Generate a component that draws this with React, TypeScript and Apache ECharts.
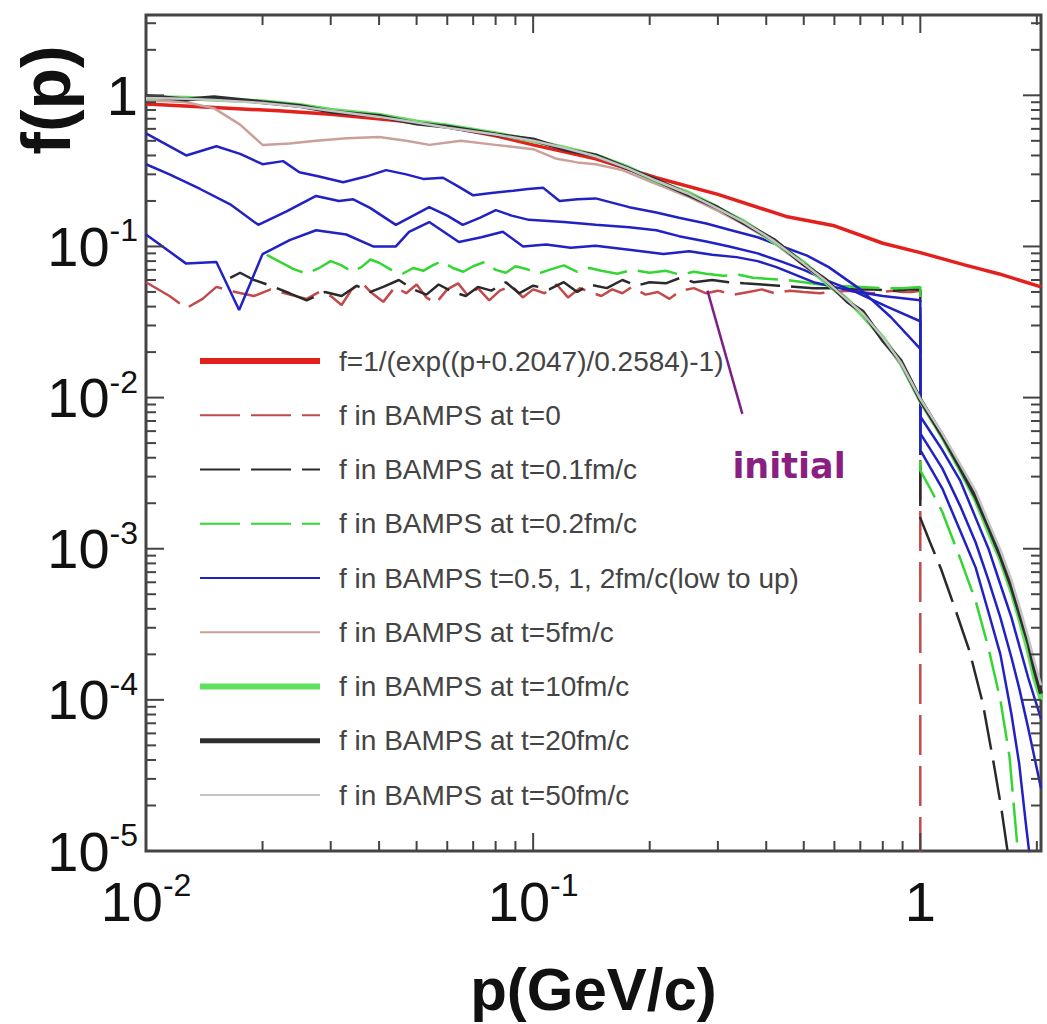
import React, { useEffect, useRef } from 'react';
import * as echarts from 'echarts';

// ---------- names ----------
const FIT_NAME = 'f=1/(exp((p+0.2047)/0.2584)-1)';
const T0_NAME = 'f in BAMPS at t=0';
const T01_NAME = 'f in BAMPS at t=0.1fm/c';
const T02_NAME = 'f in BAMPS at t=0.2fm/c';
const BLUE_NAME = 'f in BAMPS t=0.5, 1, 2fm/c(low to up)';
const T5_NAME = 'f in BAMPS at t=5fm/c';
const T10_NAME = 'f in BAMPS at t=10fm/c';
const T20_NAME = 'f in BAMPS at t=20fm/c';
const T50_NAME = 'f in BAMPS at t=50fm/c';

// ---------- axis ranges ----------
const X_MIN = 0.01;
const X_MAX = 2.05;
const Y_MIN = 1e-5;
const Y_MAX = 3.4;

const X_MAJOR = [0.01, 0.1, 1];
const X_MINOR = [0.02, 0.03, 0.04, 0.05, 0.06, 0.07, 0.08, 0.09, 0.2, 0.3, 0.4, 0.5, 0.6, 0.7, 0.8, 0.9, 2];
const Y_MAJOR = [1e-5, 1e-4, 1e-3, 1e-2, 1e-1, 1];
const Y_MINOR = [
  2e-5, 3e-5, 4e-5, 5e-5, 6e-5, 7e-5, 8e-5, 9e-5,
  2e-4, 3e-4, 4e-4, 5e-4, 6e-4, 7e-4, 8e-4, 9e-4,
  2e-3, 3e-3, 4e-3, 5e-3, 6e-3, 7e-3, 8e-3, 9e-3,
  0.02, 0.03, 0.04, 0.05, 0.06, 0.07, 0.08, 0.09,
  0.2, 0.3, 0.4, 0.5, 0.6, 0.7, 0.8, 0.9, 2, 3,
];

// ---------- fit curve (as drawn) ----------
const P_FIT = [0.01, 0.015, 0.022, 0.03, 0.045, 0.06, 0.08, 0.1, 0.145, 0.208, 0.3, 0.45, 0.6, 0.8, 1.0, 1.3, 1.6, 2.05];
const F_FIT = [0.875, 0.83, 0.79, 0.75, 0.68, 0.62, 0.54, 0.47, 0.38, 0.285, 0.221, 0.158, 0.137, 0.105, 0.091, 0.0755, 0.0658, 0.054];

// ---------- t = 0 ----------
const P_T0 = [0.01, 0.0115, 0.0127, 0.014, 0.0152, 0.017, 0.019, 0.021, 0.0235, 0.026, 0.028, 0.03, 0.032, 0.034, 0.036, 0.038, 0.041, 0.044, 0.047, 0.05, 0.053, 0.056, 0.06, 0.064, 0.068, 0.072, 0.077, 0.082, 0.088, 0.094, 0.1, 0.107, 0.115, 0.123, 0.132, 0.14, 0.15, 0.16, 0.17, 0.18, 0.195, 0.21, 0.225, 0.24, 0.26, 0.28, 0.3, 0.33, 0.36, 0.39, 0.42, 0.46, 0.5, 0.55, 0.6, 0.65, 0.7, 0.75, 0.8, 0.85, 0.9, 0.95, 1.0, 1.0];
const F_T0 = [0.058, 0.047, 0.039, 0.045, 0.054, 0.05, 0.047, 0.052, 0.048, 0.045, 0.05, 0.047, 0.041, 0.052, 0.058, 0.05, 0.043, 0.054, 0.049, 0.056, 0.046, 0.042, 0.052, 0.057, 0.047, 0.053, 0.044, 0.051, 0.055, 0.046, 0.052, 0.049, 0.056, 0.046, 0.053, 0.05, 0.047, 0.052, 0.049, 0.054, 0.048, 0.05, 0.045, 0.051, 0.053, 0.049, 0.051, 0.048, 0.05, 0.052, 0.049, 0.051, 0.05, 0.049, 0.05, 0.051, 0.05, 0.049, 0.05, 0.051, 0.05, 0.05, 0.051, 0.000001];

// ---------- t = 0.1 fm/c ----------
const P_T01 = [0.0165, 0.0175, 0.019, 0.021, 0.0235, 0.026, 0.029, 0.032, 0.035, 0.038, 0.041, 0.045, 0.049, 0.053, 0.057, 0.062, 0.067, 0.072, 0.078, 0.085, 0.092, 0.1, 0.11, 0.12, 0.13, 0.14, 0.155, 0.17, 0.185, 0.2, 0.22, 0.24, 0.26, 0.29, 0.32, 0.35, 0.39, 0.43, 0.48, 0.53, 0.6, 0.68, 0.76, 0.85, 0.93, 1.0, 1.0, 1.06, 1.13, 1.23, 1.34, 1.45, 1.55, 1.62, 1.68, 1.7];
const F_T01 = [0.062, 0.067, 0.06, 0.055, 0.049, 0.044, 0.05, 0.047, 0.055, 0.05, 0.054, 0.06, 0.052, 0.048, 0.056, 0.05, 0.047, 0.054, 0.051, 0.058, 0.049, 0.055, 0.052, 0.058, 0.05, 0.056, 0.053, 0.06, 0.055, 0.058, 0.057, 0.062, 0.058, 0.06, 0.058, 0.057, 0.056, 0.055, 0.054, 0.053, 0.053, 0.052, 0.052, 0.051, 0.052, 0.052, 0.0016, 0.0011, 0.00074, 0.0004, 0.00021, 0.000095, 0.000037, 0.000019, 0.00001, 0.000008];

// ---------- t = 0.2 fm/c ----------
const P_T02 = [0.0205, 0.022, 0.024, 0.026, 0.028, 0.03, 0.032, 0.034, 0.036, 0.038, 0.04, 0.043, 0.046, 0.049, 0.052, 0.055, 0.058, 0.062, 0.066, 0.07, 0.075, 0.08, 0.085, 0.09, 0.096, 0.103, 0.11, 0.12, 0.13, 0.14, 0.15, 0.165, 0.18, 0.2, 0.22, 0.24, 0.26, 0.28, 0.31, 0.34, 0.37, 0.41, 0.45, 0.5, 0.55, 0.6, 0.7, 0.8, 0.9, 1.0, 1.0, 1.07, 1.14, 1.27, 1.39, 1.5, 1.61, 1.7, 1.78, 1.8];
const F_T02 = [0.088, 0.08, 0.071, 0.066, 0.072, 0.08, 0.075, 0.068, 0.073, 0.082, 0.078, 0.07, 0.066, 0.072, 0.069, 0.075, 0.08, 0.072, 0.068, 0.074, 0.079, 0.07, 0.067, 0.074, 0.071, 0.066, 0.07, 0.075, 0.068, 0.072, 0.069, 0.066, 0.07, 0.067, 0.069, 0.065, 0.068, 0.066, 0.064, 0.065, 0.062, 0.061, 0.06, 0.058, 0.056, 0.055, 0.054, 0.053, 0.053, 0.054, 0.0033, 0.0024, 0.00175, 0.00085, 0.00045, 0.00022, 0.0001, 0.000042, 0.000011, 0.000008];

// ---------- t = 0.5 fm/c (lowest blue at small p) ----------
const P_T05 = [0.01, 0.0127, 0.0152, 0.0174, 0.02, 0.0235, 0.0275, 0.0329, 0.0386, 0.0442, 0.0478, 0.0539, 0.0643, 0.0735, 0.0835, 0.0942, 0.108, 0.125, 0.145, 0.177, 0.217, 0.253, 0.29, 0.335, 0.38, 0.425, 0.53, 0.66, 0.8, 1.0, 1.0, 1.14, 1.27, 1.39, 1.5, 1.61, 1.72, 1.8, 1.88, 1.93];
const F_T05 = [0.12, 0.077, 0.079, 0.038, 0.089, 0.11, 0.128, 0.12, 0.1, 0.1, 0.125, 0.145, 0.107, 0.115, 0.125, 0.1, 0.103, 0.098, 0.101, 0.095, 0.089, 0.093, 0.088, 0.085, 0.08, 0.073, 0.058, 0.051, 0.047, 0.044, 0.0045, 0.0025, 0.0013, 0.00075, 0.00038, 0.0002, 0.00008, 0.000038, 0.000014, 0.000008];

// ---------- t = 1 fm/c ----------
const P_T1 = [0.01, 0.0115, 0.0138, 0.0165, 0.0195, 0.023, 0.0275, 0.0315, 0.0343, 0.0379, 0.0442, 0.049, 0.0539, 0.06, 0.0658, 0.073, 0.0801, 0.088, 0.0975, 0.12, 0.145, 0.177, 0.208, 0.238, 0.28, 0.321, 0.38, 0.44, 0.5, 0.58, 0.68, 0.82, 1.0, 1.0, 1.14, 1.27, 1.39, 1.5, 1.61, 1.72, 1.8, 1.9, 1.97, 2.05];
const F_T1 = [0.35, 0.3, 0.24, 0.19, 0.139, 0.17, 0.216, 0.2, 0.205, 0.18, 0.139, 0.16, 0.182, 0.16, 0.139, 0.155, 0.174, 0.16, 0.15, 0.145, 0.139, 0.134, 0.128, 0.117, 0.108, 0.1, 0.09, 0.079, 0.07, 0.059, 0.05, 0.04, 0.032, 0.0058, 0.0034, 0.0019, 0.0011, 0.00062, 0.00035, 0.00019, 0.00012, 0.000065, 0.000042, 0.000026];

// ---------- t = 2 fm/c ----------
const P_T2 = [0.01, 0.0127, 0.0152, 0.0175, 0.02, 0.0226, 0.0249, 0.028, 0.0323, 0.037, 0.0417, 0.047, 0.052, 0.0585, 0.064, 0.07, 0.078, 0.0888, 0.097, 0.106, 0.117, 0.13, 0.145, 0.177, 0.208, 0.238, 0.28, 0.321, 0.38, 0.44, 0.51, 0.58, 0.7, 0.84, 1.0, 1.0, 1.14, 1.27, 1.39, 1.5, 1.61, 1.72, 1.8, 1.9, 2.05];
const F_T2 = [0.56, 0.4, 0.46, 0.41, 0.35, 0.367, 0.31, 0.29, 0.266, 0.29, 0.32, 0.3, 0.28, 0.285, 0.25, 0.218, 0.226, 0.234, 0.24, 0.245, 0.2, 0.205, 0.208, 0.182, 0.168, 0.155, 0.142, 0.129, 0.115, 0.1, 0.087, 0.073, 0.052, 0.034, 0.021, 0.0075, 0.0045, 0.0028, 0.0016, 0.001, 0.00058, 0.00035, 0.00023, 0.00014, 0.000075];

// ---------- t = 5 fm/c ----------
const P_T5 = [0.01, 0.0127, 0.015, 0.0175, 0.02, 0.0235, 0.0275, 0.033, 0.04, 0.047, 0.054, 0.065, 0.08, 0.1, 0.115, 0.13, 0.145, 0.17, 0.2, 0.25, 0.3, 0.35, 0.42, 0.5, 0.57, 0.65, 0.71, 0.8, 0.89, 1.0, 1.14, 1.27, 1.39, 1.5, 1.61, 1.72, 1.8, 1.9, 1.97, 2.05];
const F_T5 = [0.93, 0.9, 0.82, 0.64, 0.47, 0.48, 0.5, 0.52, 0.53, 0.5, 0.47, 0.5, 0.47, 0.44, 0.38, 0.36, 0.35, 0.32, 0.27, 0.215, 0.172, 0.14, 0.105, 0.075, 0.057, 0.043, 0.035, 0.024, 0.0165, 0.0093, 0.0054, 0.0033, 0.0021, 0.0013, 0.00083, 0.00052, 0.00035, 0.00021, 0.00014, 0.0001];

// ---------- thermalised (t = 10, 20, 50 fm/c) ----------
const P_TH = [0.01, 0.0127, 0.015, 0.02, 0.025, 0.03, 0.04, 0.05, 0.06, 0.08, 0.1, 0.12, 0.145, 0.175, 0.208, 0.25, 0.3, 0.35, 0.42, 0.5, 0.57, 0.65, 0.71, 0.8, 0.89, 1.0, 1.14, 1.27, 1.39, 1.5, 1.61, 1.72, 1.8, 1.9, 1.97, 2.05];
const F_T10 = [0.97, 0.96, 0.94, 0.91, 0.86, 0.8, 0.74, 0.67, 0.63, 0.56, 0.5, 0.45, 0.4, 0.335, 0.27, 0.228, 0.18, 0.146, 0.107, 0.078, 0.058, 0.044, 0.035, 0.025, 0.017, 0.0096, 0.0055, 0.0033, 0.0021, 0.0013, 0.00085, 0.00052, 0.00035, 0.00021, 0.00014, 0.0001];
const F_T20 = [0.99, 0.94, 0.97, 0.9, 0.85, 0.78, 0.73, 0.65, 0.62, 0.55, 0.51, 0.44, 0.4, 0.33, 0.275, 0.222, 0.18, 0.143, 0.11, 0.076, 0.06, 0.043, 0.037, 0.024, 0.0175, 0.0097, 0.0056, 0.0034, 0.0022, 0.0014, 0.0009, 0.00056, 0.00038, 0.00024, 0.00016, 0.00011];
const F_T50 = [0.96, 0.95, 0.93, 0.89, 0.84, 0.79, 0.72, 0.66, 0.61, 0.55, 0.5, 0.45, 0.395, 0.33, 0.272, 0.225, 0.178, 0.145, 0.108, 0.077, 0.059, 0.044, 0.036, 0.025, 0.0171, 0.0098, 0.0058, 0.0036, 0.0024, 0.0015, 0.00098, 0.00062, 0.00042, 0.00026, 0.00018, 0.000125];

// ---------- "initial" pointer ----------
const P_ARROW = [0.282, 0.347];
const F_ARROW = [0.051, 0.0078];

const pairs = (p: number[], f: number[]) => p.map((x, i) => [x, f[i]]);

const powLabel = (v: number) => {
  const e = Math.log10(v);
  const r = Math.round(e);
  if (Math.abs(e - r) > 1e-6) return '';
  if (r === 0) return '1';
  return '10{s|' + r + '}';
};

const FONT = '"Liberation Sans", Arial, Helvetica, sans-serif';
const FRAME = '#444';

function lineSeries(name: string, p: number[], f: number[], color: string, width: number, dashed = false, z = 2) {
  return {
    type: 'line',
    name,
    data: pairs(p, f),
    symbol: 'none',
    showSymbol: false,
    clip: true,
    z,
    lineStyle: { color, width, type: dashed ? [40, 11] : 'solid' },
    itemStyle: { color },
  };
}

const tickRender = (isX: boolean) => (params: any, api: any) => {
  const cs = params.coordSys;
  const v = isX ? api.value(0) : api.value(1);
  const major = api.value(2) === 1;
  const len = major ? 18 : 10;
  const style = { stroke: FRAME, lineWidth: 2 };
  if (isX) {
    const px = api.coord([v, 1])[0];
    return {
      type: 'group',
      children: [
        { type: 'line', shape: { x1: px, y1: cs.y + cs.height, x2: px, y2: cs.y + cs.height - len }, style },
        { type: 'line', shape: { x1: px, y1: cs.y, x2: px, y2: cs.y + len }, style },
      ],
    };
  }
  const py = api.coord([1, v])[1];
  return {
    type: 'group',
    children: [
      { type: 'line', shape: { x1: cs.x, y1: py, x2: cs.x + len, y2: py }, style },
      { type: 'line', shape: { x1: cs.x + cs.width, y1: py, x2: cs.x + cs.width - len, y2: py }, style },
    ],
  };
};

export default function App() {
  const ref = useRef<HTMLDivElement>(null);
  useEffect(() => {
    const chart = echarts.init(ref.current!, null, { renderer: 'svg' });
    const labelRich = {
      s: { fontSize: 32, fontFamily: FONT, color: '#111', verticalAlign: 'top', lineHeight: 34 },
    };
    const hiddenSymbol = { opacity: 0, color: 'transparent', borderWidth: 0 };
    const option: any = {
      animation: false,
      backgroundColor: '#fff',
      grid: { left: 146, right: 6, top: 15, bottom: 156, show: true, borderColor: FRAME, borderWidth: 3, backgroundColor: '#fff' },
      xAxis: {
        type: 'log',
        min: X_MIN,
        max: X_MAX,
        logBase: 10,
        axisLine: { show: false },
        axisTick: { show: false },
        splitLine: { show: false },
        minorTick: { show: false },
        axisLabel: { formatter: powLabel, fontSize: 56, fontFamily: FONT, color: '#111', margin: 18, rich: labelRich, lineHeight: 64 },
        name: 'p(GeV/c)',
        nameLocation: 'middle',
        nameGap: 108,
        nameTextStyle: { fontSize: 60, fontWeight: 'bold', fontFamily: FONT, color: '#111' },
      },
      yAxis: {
        type: 'log',
        min: Y_MIN,
        max: Y_MAX,
        logBase: 10,
        axisLine: { show: false },
        axisTick: { show: false },
        splitLine: { show: false },
        minorTick: { show: false },
        axisLabel: { formatter: powLabel, fontSize: 56, fontFamily: FONT, color: '#111', margin: 8, rich: labelRich, lineHeight: 64 },
      },
      legend: {
        orient: 'vertical',
        left: 197,
        top: 345,
        padding: 0,
        itemWidth: 120,
        itemHeight: 14,
        itemGap: 22.25,
        selectedMode: false,
        itemStyle: hiddenSymbol,
        textStyle: { fontSize: 28, color: '#444', fontFamily: FONT, lineHeight: 32, padding: [0, 0, 0, 14] },
        data: [
          { name: FIT_NAME, lineStyle: { width: 6 } },
          T0_NAME, T01_NAME, T02_NAME, BLUE_NAME, T5_NAME,
          { name: T10_NAME, lineStyle: { width: 6 } },
          { name: T20_NAME, lineStyle: { width: 5 } },
          T50_NAME,
        ],
      },
      graphic: [
        {
          type: 'text',
          x: 46,
          y: 100,
          rotation: Math.PI / 2,
          style: { text: 'f(p)', fontSize: 68, fontWeight: 'bold', fontFamily: FONT, fill: '#111', textAlign: 'center', textVerticalAlign: 'middle' },
        },
        {
          type: 'text',
          x: 789,
          y: 466,
          style: { text: 'initial', fontSize: 35, fontWeight: 'bold', fontFamily: '"DejaVu Sans", sans-serif', fill: '#8a1f82', textAlign: 'center', textVerticalAlign: 'middle' },
        },
      ],
      series: [
        lineSeries(FIT_NAME, P_FIT, F_FIT, '#e3201c', 3.5, false, 2),
        lineSeries(T0_NAME, P_T0, F_T0, '#c24a4a', 2.5, true, 3),
        lineSeries(T01_NAME, P_T01, F_T01, '#2a2a2a', 2.5, true, 3),
        lineSeries(T02_NAME, P_T02, F_T02, '#33d633', 2.5, true, 3),
        lineSeries(BLUE_NAME, P_T05, F_T05, '#2222c4', 2.5, false, 4),
        lineSeries(BLUE_NAME, P_T1, F_T1, '#2222c4', 2.5, false, 4),
        lineSeries(BLUE_NAME, P_T2, F_T2, '#2222c4', 2.5, false, 4),
        lineSeries(T5_NAME, P_T5, F_T5, '#c9a09a', 2.5, false, 4),
        lineSeries(T10_NAME, P_TH, F_T10, '#5fe05f', 4.5, false, 4),
        lineSeries(T20_NAME, P_TH, F_T20, '#2e2e2e', 4, false, 4),
        lineSeries(T50_NAME, P_TH, F_T50, '#c4c4c4', 2.5, false, 5),
        {
          type: 'line',
          name: 'initial-pointer',
          data: pairs(P_ARROW, F_ARROW),
          symbol: 'none',
          z: 6,
          lineStyle: { color: '#7d1f86', width: 2.5 },
        },
        {
          type: 'custom',
          name: 'x-ticks',
          coordinateSystem: 'cartesian2d',
          silent: true,
          clip: false,
          z: 10,
          renderItem: tickRender(true),
          data: [...X_MAJOR.map((v) => [v, 1, 1]), ...X_MINOR.map((v) => [v, 1, 0])],
        },
        {
          type: 'custom',
          name: 'y-ticks',
          coordinateSystem: 'cartesian2d',
          silent: true,
          clip: false,
          z: 10,
          renderItem: tickRender(false),
          data: [...Y_MAJOR.map((v) => [1, v, 1]), ...Y_MINOR.map((v) => [1, v, 0])],
        },
      ],
    };
    chart.setOption(option);
    return () => chart.dispose();
  }, []);
  return (
    <div
      ref={ref}
      style={{ position: 'absolute', left: 0, top: 0, width: 1047, height: 1024, background: '#fff' }}
    />
  );
}
